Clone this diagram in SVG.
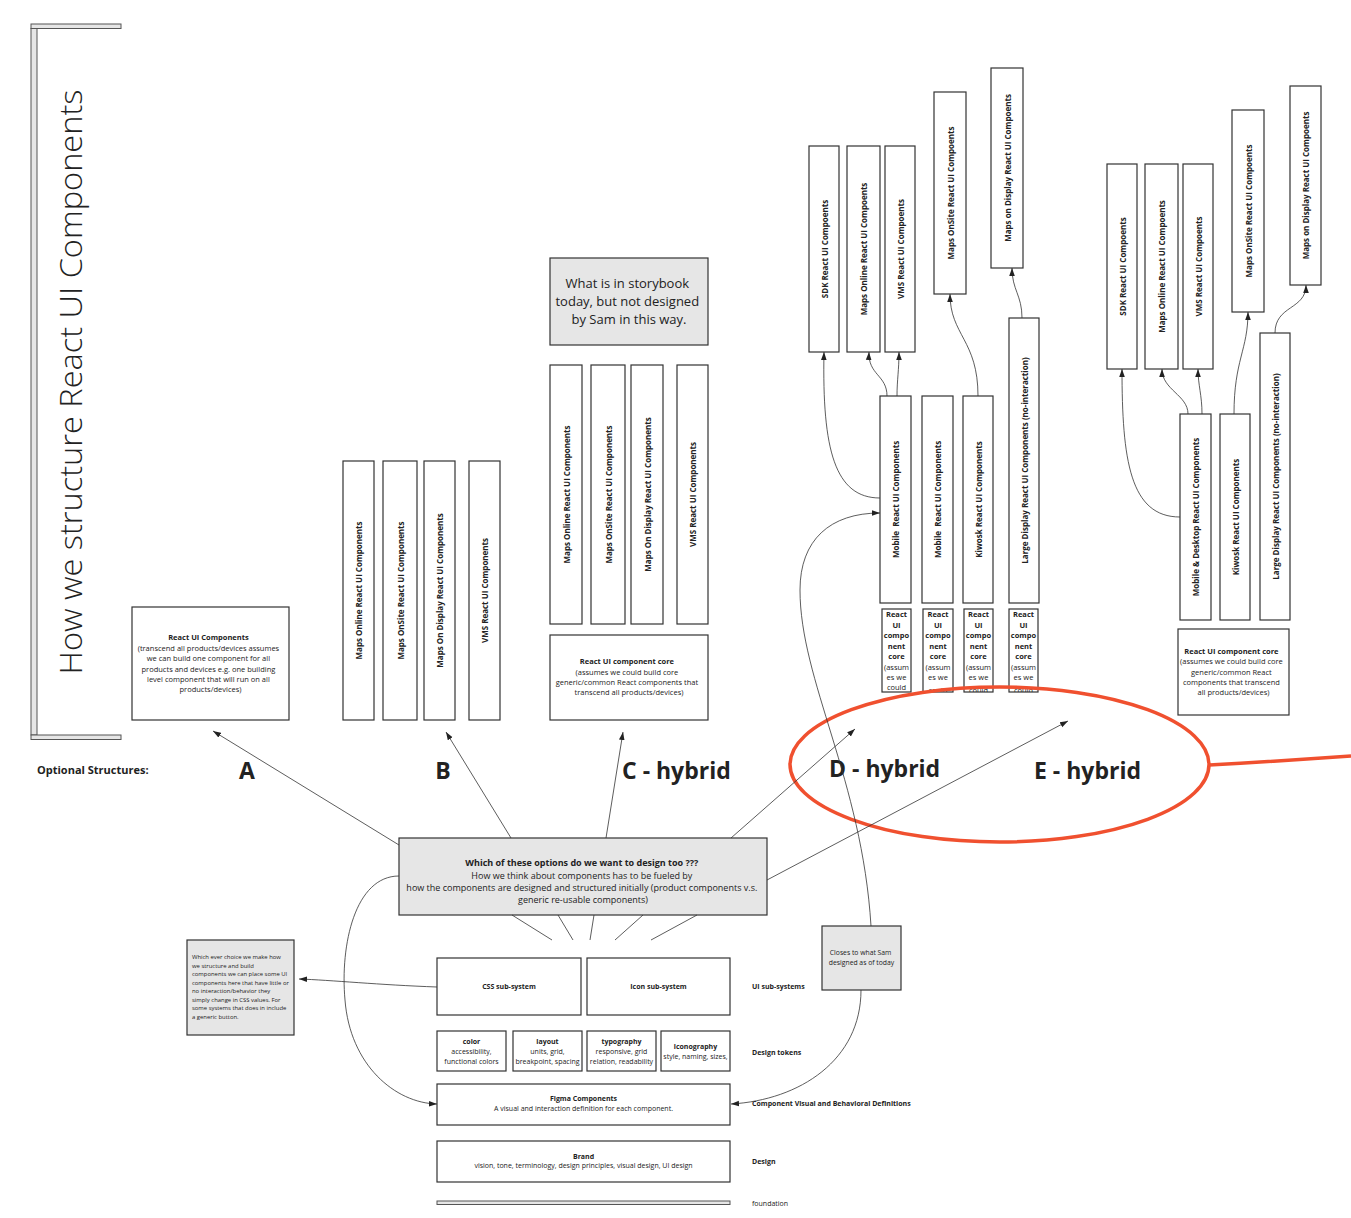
<svg xmlns="http://www.w3.org/2000/svg" width="1351" height="1218" viewBox="0 0 1351 1218">
<style>
text{font-family:"Open Sans","Liberation Sans",sans-serif;fill:#222}
.box{fill:#fff;stroke:#333;stroke-width:1.2}
.gbox{fill:#e6e6e6;stroke:#333;stroke-width:1.2}
.bar{fill:#e6e6e6;stroke:#555;stroke-width:1}
.ct{font-size:8px;font-weight:bold}
.t7{font-size:7.5px}
.t7b{font-size:7.5px;font-weight:bold}
.sm{font-size:7px}
.smb{font-size:7px;font-weight:bold}
.big{font-size:23px;font-weight:bold}
.conn{fill:none;stroke:#333;stroke-width:0.8}
.arr{marker-end:url(#ah)}
</style>
<defs>
<marker id="ah" viewBox="0 0 10 10" refX="10" refY="5" markerWidth="8" markerHeight="8" orient="auto" markerUnits="userSpaceOnUse"><path d="M0,1.5 L10,5 L0,8.5 z" fill="#222"/></marker>
<clipPath id="c1"><rect x="882" y="609" width="29" height="83"/></clipPath>
<clipPath id="c2"><rect x="923" y="609" width="30" height="83"/></clipPath>
<clipPath id="c3"><rect x="964" y="609" width="29" height="83"/></clipPath>
<clipPath id="c4"><rect x="1009" y="609" width="29" height="83"/></clipPath>
</defs>
<rect width="1351" height="1218" fill="#fff"/>

<g id="title">
<rect class="bar" x="31" y="24" width="90" height="4.5"/>
<rect class="bar" x="31" y="28.5" width="6" height="706.5"/>
<rect class="bar" x="31" y="735" width="90" height="4.5"/>
<text transform="translate(82,382) rotate(-90)" text-anchor="middle" font-size="31" font-weight="300" textLength="585" lengthAdjust="spacingAndGlyphs">How we structure React UI Components</text>
</g>

<g id="labels">
<text x="37" y="774" font-size="11" font-weight="bold">Optional Structures:</text>
<text class="big" x="247" y="779" text-anchor="middle">A</text>
<text class="big" x="443" y="779" text-anchor="middle">B</text>
<text class="big" x="622" y="779">C - hybrid</text>
<text class="big" x="829" y="777">D - hybrid</text>
<text class="big" x="1034" y="779">E - hybrid</text>
</g>

<g id="optA">
<rect class="box" x="132" y="607" width="157" height="113"/>
<text text-anchor="middle" x="210.5">
<tspan class="t7b" x="210.5" y="640">React UI Components</tspan>
<tspan class="t7" x="210.5" y="651">(transcend all products/devices assumes</tspan>
<tspan class="t7" x="210.5" y="661">we can build one component for all</tspan>
<tspan class="t7" x="210.5" y="672">products and devices e.g. one building</tspan>
<tspan class="t7" x="210.5" y="682">level component that will run on all</tspan>
<tspan class="t7" x="210.5" y="692">products/devices)</tspan>
</text>
</g>

<g id="optB">
<rect class="box" x="343" y="461" width="31" height="259"/>
<rect class="box" x="383" y="461" width="34" height="259"/>
<rect class="box" x="424" y="461" width="31" height="259"/>
<rect class="box" x="469" y="461" width="31" height="259"/>
<text class="ct" transform="translate(358.5,590.5) rotate(-90)" text-anchor="middle" dominant-baseline="central">Maps Online React UI Components</text>
<text class="ct" transform="translate(400,590.5) rotate(-90)" text-anchor="middle" dominant-baseline="central">Maps OnSite React UI Components</text>
<text class="ct" transform="translate(439.5,590.5) rotate(-90)" text-anchor="middle" dominant-baseline="central">Maps On Display React UI Components</text>
<text class="ct" transform="translate(484.5,590.5) rotate(-90)" text-anchor="middle" dominant-baseline="central">VMS React UI Components</text>
</g>

<g id="optC">
<rect class="gbox" x="550" y="258" width="158" height="87"/>
<text text-anchor="middle" font-size="13">
<tspan x="629" y="288">What is in storybook</tspan>
<tspan x="629" y="306">today, but not designed</tspan>
<tspan x="629" y="324">by Sam in this way.</tspan>
</text>
<rect class="box" x="550" y="365" width="32" height="259"/>
<rect class="box" x="591" y="365" width="34" height="259"/>
<rect class="box" x="631" y="365" width="32" height="259"/>
<rect class="box" x="677" y="365" width="31" height="259"/>
<text class="ct" transform="translate(566,494.5) rotate(-90)" text-anchor="middle" dominant-baseline="central">Maps Online React UI Components</text>
<text class="ct" transform="translate(608,494.5) rotate(-90)" text-anchor="middle" dominant-baseline="central">Maps OnSite React UI Components</text>
<text class="ct" transform="translate(647,494.5) rotate(-90)" text-anchor="middle" dominant-baseline="central">Maps On Display React UI Components</text>
<text class="ct" transform="translate(692.5,494.5) rotate(-90)" text-anchor="middle" dominant-baseline="central">VMS React UI Components</text>
<rect class="box" x="550" y="635" width="158" height="85"/>
<text text-anchor="middle">
<tspan class="t7b" x="629" y="664">React UI component core</tspan>
<tspan class="t7" x="629" y="675">(assumes we could build core</tspan>
<tspan class="t7" x="629" y="685">generic/common React components that</tspan>
<tspan class="t7" x="629" y="695">transcend all products/devices)</tspan>
</text>
</g>

<g id="optD">
<rect class="box" x="809" y="146" width="30" height="206"/>
<rect class="box" x="847" y="146" width="33" height="206"/>
<rect class="box" x="885" y="146" width="30" height="206"/>
<rect class="box" x="934" y="92" width="32" height="202"/>
<rect class="box" x="991" y="68" width="32" height="200"/>
<text class="ct" transform="translate(824,249) rotate(-90)" text-anchor="middle" dominant-baseline="central">SDK React UI Compoents</text>
<text class="ct" transform="translate(863.5,249) rotate(-90)" text-anchor="middle" dominant-baseline="central">Maps Online React UI Compoents</text>
<text class="ct" transform="translate(900,249) rotate(-90)" text-anchor="middle" dominant-baseline="central">VMS React UI Compoents</text>
<text class="ct" transform="translate(950,193) rotate(-90)" text-anchor="middle" dominant-baseline="central">Maps OnSite React UI Compoents</text>
<text class="ct" transform="translate(1007,168) rotate(-90)" text-anchor="middle" dominant-baseline="central">Maps on Display React UI Compoents</text>
<rect class="box" x="880" y="396" width="31" height="207"/>
<rect class="box" x="922" y="396" width="31" height="207"/>
<rect class="box" x="963" y="396" width="30" height="207"/>
<rect class="box" x="1009" y="318" width="30" height="285"/>
<text class="ct" transform="translate(895.5,499.5) rotate(-90)" text-anchor="middle" dominant-baseline="central" xml:space="preserve">Mobile  React UI Components</text>
<text class="ct" transform="translate(937.5,499.5) rotate(-90)" text-anchor="middle" dominant-baseline="central" xml:space="preserve">Mobile  React UI Components</text>
<text class="ct" transform="translate(978,499.5) rotate(-90)" text-anchor="middle" dominant-baseline="central">Kiwosk React UI Components</text>
<text class="ct" transform="translate(1024,460.5) rotate(-90)" text-anchor="middle" dominant-baseline="central">Large Display React UI Components (no-interaction)</text>
<rect class="box" x="882" y="609" width="29" height="83"/>
<rect class="box" x="923" y="609" width="30" height="83"/>
<rect class="box" x="964" y="609" width="29" height="83"/>
<rect class="box" x="1009" y="609" width="29" height="83"/>
<g clip-path="url(#c1)"><text text-anchor="middle"><tspan class="t7b" x="896.5" y="617">React</tspan><tspan class="t7b" x="896.5" y="627.5">UI</tspan><tspan class="t7b" x="896.5" y="638">compo</tspan><tspan class="t7b" x="896.5" y="648.5">nent</tspan><tspan class="t7b" x="896.5" y="659">core</tspan><tspan class="t7" x="896.5" y="669.5">(assum</tspan><tspan class="t7" x="896.5" y="680">es we</tspan><tspan class="t7" x="896.5" y="690">could</tspan></text></g>
<g clip-path="url(#c2)"><text text-anchor="middle"><tspan class="t7b" x="938" y="617">React</tspan><tspan class="t7b" x="938" y="627.5">UI</tspan><tspan class="t7b" x="938" y="638">compo</tspan><tspan class="t7b" x="938" y="648.5">nent</tspan><tspan class="t7b" x="938" y="659">core</tspan><tspan class="t7" x="938" y="669.5">(assum</tspan><tspan class="t7" x="938" y="680">es we</tspan><tspan class="t7" x="938" y="693">could</tspan></text></g>
<g clip-path="url(#c3)"><text text-anchor="middle"><tspan class="t7b" x="978.5" y="617">React</tspan><tspan class="t7b" x="978.5" y="627.5">UI</tspan><tspan class="t7b" x="978.5" y="638">compo</tspan><tspan class="t7b" x="978.5" y="648.5">nent</tspan><tspan class="t7b" x="978.5" y="659">core</tspan><tspan class="t7" x="978.5" y="669.5">(assum</tspan><tspan class="t7" x="978.5" y="680">es we</tspan><tspan class="t7" x="978.5" y="693">could</tspan></text></g>
<g clip-path="url(#c4)"><text text-anchor="middle"><tspan class="t7b" x="1023.5" y="617">React</tspan><tspan class="t7b" x="1023.5" y="627.5">UI</tspan><tspan class="t7b" x="1023.5" y="638">compo</tspan><tspan class="t7b" x="1023.5" y="648.5">nent</tspan><tspan class="t7b" x="1023.5" y="659">core</tspan><tspan class="t7" x="1023.5" y="669.5">(assum</tspan><tspan class="t7" x="1023.5" y="680">es we</tspan><tspan class="t7" x="1023.5" y="693">could</tspan></text></g>
</g>

<g id="optE">
<rect class="box" x="1107" y="164" width="30" height="205"/>
<rect class="box" x="1145" y="164" width="33" height="205"/>
<rect class="box" x="1183" y="164" width="30" height="205"/>
<rect class="box" x="1232" y="110" width="32" height="202"/>
<rect class="box" x="1290" y="86" width="31" height="199"/>
<text class="ct" transform="translate(1122,266.5) rotate(-90)" text-anchor="middle" dominant-baseline="central">SDK React UI Compoents</text>
<text class="ct" transform="translate(1161.5,266.5) rotate(-90)" text-anchor="middle" dominant-baseline="central">Maps Online React UI Compoents</text>
<text class="ct" transform="translate(1198,266.5) rotate(-90)" text-anchor="middle" dominant-baseline="central">VMS React UI Compoents</text>
<text class="ct" transform="translate(1248,211) rotate(-90)" text-anchor="middle" dominant-baseline="central">Maps OnSite React UI Compoents</text>
<text class="ct" transform="translate(1305.5,185.5) rotate(-90)" text-anchor="middle" dominant-baseline="central">Maps on Display React UI Compoents</text>
<rect class="box" x="1180" y="414" width="31" height="206"/>
<rect class="box" x="1220" y="414" width="30" height="206"/>
<rect class="box" x="1260" y="333" width="30" height="287"/>
<text class="ct" transform="translate(1195.5,517) rotate(-90)" text-anchor="middle" dominant-baseline="central">Mobile &amp; Desktop React UI Components</text>
<text class="ct" transform="translate(1235,517) rotate(-90)" text-anchor="middle" dominant-baseline="central">Kiwosk React UI Components</text>
<text class="ct" transform="translate(1275,476.5) rotate(-90)" text-anchor="middle" dominant-baseline="central">Large Display React UI Components (no-interaction)</text>
<rect class="box" x="1178" y="629" width="111" height="86"/>
<text text-anchor="middle">
<tspan class="t7b" x="1233.5" y="654">React UI component core</tspan>
<tspan class="t7" x="1233.5" y="664">(assumes we could build core</tspan>
<tspan class="t7" x="1233.5" y="674.5">generic/common React</tspan>
<tspan class="t7" x="1233.5" y="685">components that transcend</tspan>
<tspan class="t7" x="1233.5" y="695">all products/devices)</tspan>
</text>
</g>

<g id="question">
<rect class="gbox" x="399" y="838" width="368" height="77"/>
<text text-anchor="middle" font-size="9">
<tspan x="583" y="866" font-weight="bold">Which of these options do we want to design too ???</tspan>
<tspan x="583" y="879">How we think about components has to be fueled by</tspan>
<tspan x="583" y="891">how the components are designed and structured initially (product components v.s.</tspan>
<tspan x="583" y="903">generic re-usable components)</tspan>
</text>
</g>

<g id="note-left">
<rect class="gbox" x="187" y="940" width="107" height="95"/>
<text font-size="5.9">
<tspan x="192" y="959">Which ever choice we make how</tspan>
<tspan x="192" y="968">we structure and build</tspan>
<tspan x="192" y="976">components we can place some UI</tspan>
<tspan x="192" y="985">components here that have little or</tspan>
<tspan x="192" y="993">no interaction/behavior they</tspan>
<tspan x="192" y="1002">simply change in CSS values. For</tspan>
<tspan x="192" y="1010">some systems that does in include</tspan>
<tspan x="192" y="1019">a generic button.</tspan>
</text>
</g>

<g id="note-closes">
<rect class="gbox" x="822" y="926" width="79" height="64"/>
<text text-anchor="middle" font-size="6.8">
<tspan x="861.5" y="955">Closes to what Sam</tspan>
<tspan x="861.5" y="965">designed as of today</tspan>
</text>
</g>

<g id="css">
<rect class="box" x="437" y="958" width="144" height="57"/>
<text class="smb" x="509" y="989" text-anchor="middle">CSS sub-system</text>
</g>
<g id="icon">
<rect class="box" x="587" y="958" width="143" height="57"/>
<text class="smb" x="658.5" y="989" text-anchor="middle">Icon sub-system</text>
</g>
<g id="tok-color">
<rect class="box" x="437" y="1031" width="69" height="40"/>
<text text-anchor="middle"><tspan class="smb" x="471.5" y="1044">color</tspan><tspan class="sm" x="471.5" y="1054">accessibility,</tspan><tspan class="sm" x="471.5" y="1064">functional colors</tspan></text>
</g>
<g id="tok-layout">
<rect class="box" x="513" y="1031" width="69" height="40"/>
<text text-anchor="middle"><tspan class="smb" x="547.5" y="1044">layout</tspan><tspan class="sm" x="547.5" y="1054">units, grid,</tspan><tspan class="sm" x="547.5" y="1064">breakpoint, spacing</tspan></text>
</g>
<g id="tok-typo">
<rect class="box" x="587" y="1031" width="69" height="40"/>
<text text-anchor="middle"><tspan class="smb" x="621.5" y="1044">typography</tspan><tspan class="sm" x="621.5" y="1054">responsive, grid</tspan><tspan class="sm" x="621.5" y="1064">relation, readability</tspan></text>
</g>
<g id="tok-icon">
<rect class="box" x="661" y="1031" width="69" height="40"/>
<text text-anchor="middle"><tspan class="smb" x="695.5" y="1049">iconography</tspan><tspan class="sm" x="695.5" y="1059">style, naming, sizes,</tspan></text>
</g>
<g id="figma">
<rect class="box" x="437" y="1084" width="293" height="41"/>
<text text-anchor="middle"><tspan class="smb" x="583.5" y="1101">Figma Components</tspan><tspan class="sm" x="583.5" y="1111">A visual and interaction definition for each component.</tspan></text>
</g>
<g id="brand">
<rect class="box" x="437" y="1141" width="293" height="41"/>
<text text-anchor="middle"><tspan class="smb" x="583.5" y="1159">Brand</tspan><tspan class="sm" x="583.5" y="1168">vision, tone, terminology, design principles, visual design, UI design</tspan></text>
</g>
<g id="foundation">
<rect class="bar" x="437" y="1201" width="293" height="3.5"/>
</g>
<g id="layer-labels">
<text class="smb" x="752" y="989">UI sub-systems</text>
<text class="smb" x="752" y="1055">Design tokens</text>
<text class="smb" x="752" y="1106">Component Visual and Behavioral Definitions</text>
<text class="smb" x="752" y="1164">Design</text>
<text class="sm" x="752" y="1206">foundation</text>
</g>

<g id="highlight">
<ellipse cx="999.5" cy="764.5" rx="209.5" ry="77.5" fill="none" stroke="#f0502f" stroke-width="3.5"/>
<path d="M1209,765 Q1280,761 1351,756" fill="none" stroke="#f0502f" stroke-width="3.5"/>
</g>

<g id="connectors">
<path class="conn arr" d="M399,845 L213,731"/>
<path class="conn arr" d="M511,838 L446,732"/>
<path class="conn arr" d="M606,838 L623,732"/>
<path class="conn arr" d="M731,838 L855,729"/>
<path class="conn arr" d="M767,880 L1068,721"/>
<path class="conn" d="M512,915 L552,940 M558,915 L573,940 M594,915 L590,940 M643,915 L615,940 M697,915 L651,940"/>
<path class="conn arr" d="M399,876 C355,876 340,945 345,1000 C350,1065 395,1103 437,1104"/>
<path class="conn arr" d="M437,987 C380,985 330,980 299,979"/>
<path class="conn arr" d="M861,990 C861,1060 800,1100 731,1104"/>
<path class="conn arr" d="M871,926 C862,780 800,680 800,590 C800,540 830,513 880,513"/>
<path class="conn arr" d="M880,498 C835,498 822,450 824,352"/>
<path class="conn arr" d="M887,396 C887,375 868,375 869,352"/>
<path class="conn arr" d="M897,396 C897,380 899,370 899,352"/>
<path class="conn arr" d="M978,396 C978,340 950,335 950,294"/>
<path class="conn arr" d="M1022,318 C1022,295 1012,290 1012,268"/>
<path class="conn arr" d="M1180,517 C1130,517 1122,460 1122,369"/>
<path class="conn arr" d="M1188,414 C1188,395 1162,390 1162,369"/>
<path class="conn arr" d="M1202,414 C1202,395 1198,385 1198,369"/>
<path class="conn arr" d="M1234,414 C1234,360 1248,350 1248,312"/>
<path class="conn arr" d="M1275,333 C1275,305 1306,310 1306,285"/>
</g>
</svg>
